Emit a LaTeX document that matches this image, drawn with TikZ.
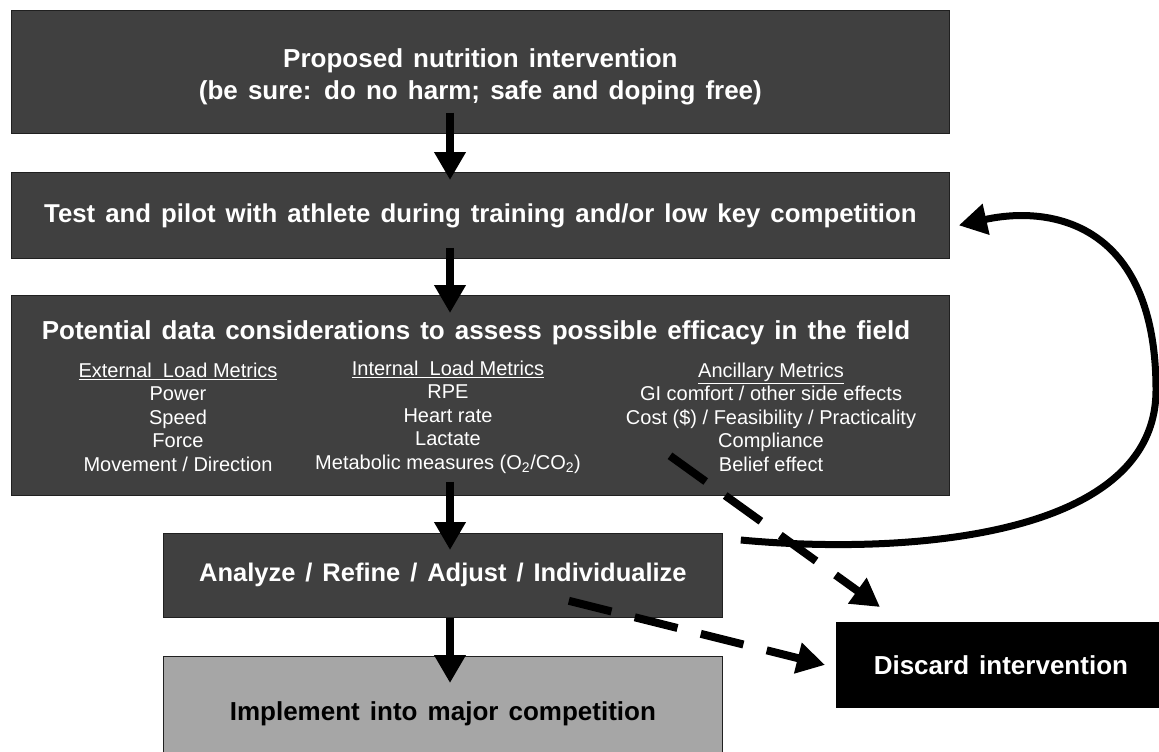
\documentclass[tikz,border=0pt]{standalone}
\usepackage{fontspec}
\setmainfont{Liberation Sans}
\newfontfamily\headsf{Liberation Sans}[WordSpace=1.4]
\usetikzlibrary{arrows.meta,calc,positioning}

\begin{document}
\begin{tikzpicture}[x=1pt,y=-1pt,
    box/.style={draw=ink, line width=0.8pt, fill=slate, text=white, inner sep=0pt,
      anchor=north west, align=center},
    flow/.style={line width=8pt, -{Triangle[width=30pt,length=28pt]}},
    dashflow/.style={flow, dash pattern=on 44pt off 24pt},
    metric/.style={text=white, align=center, font=\fontsize{20}{23.5}\selectfont}]
  \definecolor{ink}{RGB}{32,32,32}
  \definecolor{slate}{RGB}{64,64,64}
  \definecolor{pale}{RGB}{166,166,166}

  \useasboundingbox (0,0) rectangle (1159,752);

  % main boxes
  \node[box, minimum width=938pt, minimum height=123pt, font=\headsf\bfseries\fontsize{26}{32}\selectfont]
    (propose) at (11,10) {\rule{0pt}{29pt}Proposed nutrition intervention\\(be sure: do no harm; safe and doping free)};
  \node[box, minimum width=938pt, minimum height=86pt, font=\headsf\bfseries\fontsize{25.8}{32}\selectfont]
    (pilot) at (11,172) {Test and pilot with athlete during training and/or low key competition};
  \node[box, minimum width=938pt, minimum height=200pt] (field) at (11,295) {};
  \node[box, minimum width=559pt, minimum height=84pt, font=\headsf\bfseries\fontsize{25.5}{30}\selectfont]
    (adjust) at (163,533) {Analyze / Refine / Adjust / Individualize};
  \node[box, fill=pale, text=black, minimum width=559pt, minimum height=114pt,
    font=\headsf\bfseries\fontsize{26}{30}\selectfont]
    (implement) at (163,656) {Implement into major competition};
  \node[box, draw=black, fill=black, minimum width=329pt, minimum height=85pt,
    font=\headsf\bfseries\fontsize{26}{30}\selectfont]
    (discard) at (836,622) {Discard intervention};

  % texts of the data box
  \node[text=white, font=\headsf\bfseries\fontsize{26}{32}\selectfont] (fieldtitle) at (476,333)
    {Potential data considerations to assess possible efficacy in the field};
  \node[metric] (external) at (178,417)
    {\underline{External\ \ Load Metrics}\\Power\\Speed\\Force\\Movement / Direction};
  \node[metric] (internal) at (448,417)
    {\underline{Internal\ \ Load Metrics}\\RPE\\Heart rate\\Lactate\\Metabolic measures (O\textsubscript{2}/CO\textsubscript{2})};
  \node[metric] (ancillary) at (771,417)
    {\underline{Ancillary Metrics}\\GI comfort / other side effects\\Cost (\$) / Feasibility / Practicality\\Compliance\\Belief effect};

  % connectors
  \coordinate (spine) at (450,0);
  \draw[flow] ($(propose.south -| spine)+(0,-21)$) -- ($(pilot.north -| spine)+(0,8)$);
  \draw[flow] ($(pilot.south -| spine)+(0,-11)$) -- ($(field.north -| spine)+(0,18)$);
  \draw[flow] ($(field.south -| spine)+(0,-14)$) -- ($(adjust.north -| spine)+(0,17)$);
  \draw[flow] ($(adjust.south -| spine)+(0,0)$) -- ($(implement.north -| spine)+(0,27)$);

  \coordinate (bend) at (1156,390);
  \draw[flow, line width=7pt] ($(adjust.north east)+(18,7)$)
    .. controls (900,555) and (1156,540) .. (bend)
    .. controls (1156,222) and (1050,205) .. ($(pilot.east)+(9,10)$);

  \draw[dashflow] ($(field.south west)+(659,-40)$) -- ($(discard.north west)+(44,-15)$);
  \draw[dashflow] ($(adjust.south east)+(-154,-17)$) -- ($(discard.west)+(-11,0)$);
\end{tikzpicture}
\end{document}
